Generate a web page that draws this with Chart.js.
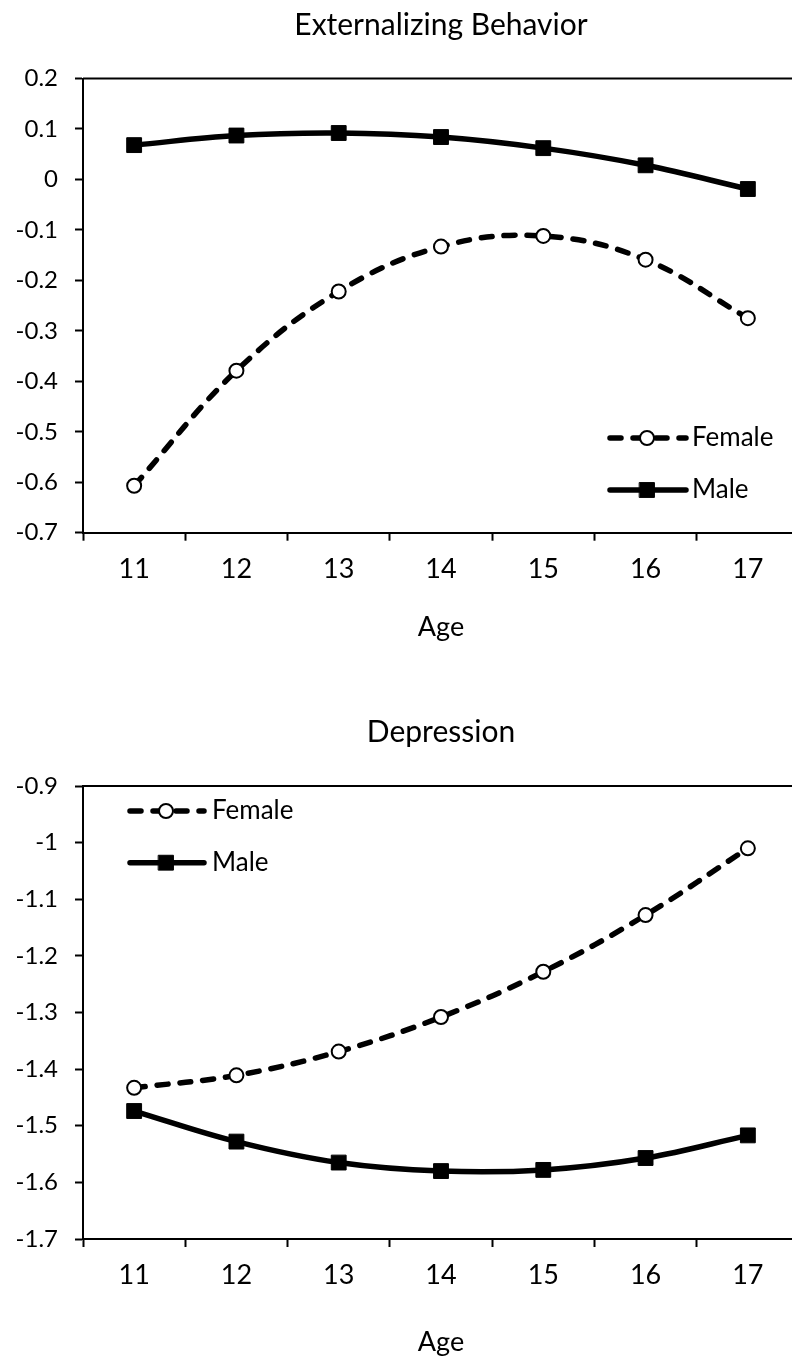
<!DOCTYPE html>
<html>
<head>
<meta charset="utf-8">
<script src="https://cdn.jsdelivr.net/npm/chart.js@4.4.1/dist/chart.umd.min.js"></script>
<style>
  html, body { margin: 0; padding: 0; background: #fff; overflow: hidden; }
  .panel { width: 792px; overflow: hidden; }
  canvas { display: block; }
</style>
</head>
<body>
<div class="panel" style="height:680px"><canvas id="chart-ext" width="820" height="680"></canvas></div>
<div class="panel" style="height:679px"><canvas id="chart-dep" width="820" height="679"></canvas></div>
<script>
// ages shared by both panels
const AGES = ['11', '12', '13', '14', '15', '16', '17'];

// Externalizing Behavior
const EXT_FEMALE = [-0.607, -0.379, -0.222, -0.133, -0.112, -0.159, -0.275];
const EXT_MALE = [0.068, 0.087, 0.092, 0.084, 0.062, 0.028, -0.019];
const EXT_Y_MIN = -0.7;
const EXT_Y_MAX = 0.2;

// Depression
const DEP_FEMALE = [-1.433, -1.411, -1.369, -1.308, -1.228, -1.128, -1.01];
const DEP_MALE = [-1.474, -1.528, -1.565, -1.58, -1.578, -1.557, -1.517];
const DEP_Y_MIN = -1.7;
const DEP_Y_MAX = -0.9;

const SERIES_LABELS = ['Female', 'Male'];

const FONT = 'Lato';
const DASH = [11, 12];

function femaleDataset(values) {
  return {
    label: SERIES_LABELS[0],
    data: values,
    borderColor: '#000',
    borderWidth: 5.5,
    borderDash: DASH,
    borderCapStyle: 'round',
    tension: 0.38,
    pointStyle: 'circle',
    pointRadius: 7,
    pointBorderWidth: 2,
    pointBackgroundColor: '#fff',
    pointBorderColor: '#000'
  };
}

function maleDataset(values) {
  return {
    label: SERIES_LABELS[1],
    data: values,
    borderColor: '#000',
    borderWidth: 5.5,
    tension: 0.38,
    pointStyle: 'rect',
    pointRadius: 10.5,
    pointBorderWidth: 1,
    pointBackgroundColor: '#000',
    pointBorderColor: '#000'
  };
}

// top border of the plot area (Excel draws the box, right side is cropped off)
const topBorder = {
  id: 'topBorder',
  afterDraw(chart) {
    const { ctx, chartArea } = chart;
    ctx.save();
    ctx.strokeStyle = '#000';
    ctx.lineWidth = 2;
    ctx.beginPath();
    ctx.moveTo(chartArea.left, chartArea.top);
    ctx.lineTo(chartArea.right, chartArea.top);
    ctx.stroke();
    ctx.restore();
  }
};

// legend inside the plot: line sample with marker in the middle
const lineLegend = {
  id: 'lineLegend',
  afterDatasetsDraw(chart, args, opts) {
    const { ctx } = chart;
    chart.data.datasets.forEach((ds, i) => {
      const y = opts.rows[i];
      const x0 = opts.x0;
      const x1 = opts.x1;
      const mx = (x0 + x1) / 2 - 1;
      ctx.save();
      ctx.strokeStyle = '#000';
      ctx.lineWidth = ds.borderWidth;
      ctx.lineCap = 'round';
      ctx.setLineDash(ds.borderDash || []);
      ctx.beginPath();
      ctx.moveTo(x0, y);
      ctx.lineTo(x1, y);
      ctx.stroke();
      ctx.setLineDash([]);
      ctx.fillStyle = ds.pointBackgroundColor;
      ctx.strokeStyle = ds.pointBorderColor;
      ctx.lineWidth = ds.pointBorderWidth;
      ctx.beginPath();
      if (ds.pointStyle === 'rect') {
        const s = ds.pointRadius * Math.SQRT1_2;
        ctx.rect(mx - s, y - s, 2 * s, 2 * s);
      } else {
        ctx.arc(mx, y, ds.pointRadius, 0, Math.PI * 2);
      }
      ctx.fill();
      ctx.stroke();
      ctx.fillStyle = '#000';
      ctx.font = opts.fontSize + 'px ' + FONT;
      ctx.textBaseline = 'middle';
      ctx.textAlign = 'left';
      ctx.fillText(ds.label, opts.textX, y);
      ctx.restore();
    });
  }
};

function fmt(v) {
  const n = Number(v.toFixed(1));
  return (n === 0 ? 0 : n).toString();
}

function makeChart(id, cfg) {
  return new Chart(document.getElementById(id), {
    type: 'line',
    data: {
      labels: AGES,
      datasets: [femaleDataset(cfg.female), maleDataset(cfg.male)]
    },
    plugins: [topBorder, lineLegend],
    options: {
      responsive: false,
      animation: false,
      events: [],
      layout: { padding: { left: 0, right: 21, top: 0, bottom: cfg.padBottom } },
      plugins: {
        legend: { display: false },
        tooltip: { enabled: false },
        title: {
          display: true,
          fullSize: false,
          text: cfg.title,
          color: '#000',
          font: { family: FONT, size: 30, weight: 'normal' },
          padding: cfg.titlePad
        },
        lineLegend: cfg.legend
      },
      scales: {
        x: {
          offset: true,
          afterFit: (s) => { s.height = cfg.xHeight; },
          grid: { offset: true, drawOnChartArea: false, drawTicks: true, tickLength: 8, tickWidth: 2, tickColor: '#000' },
          border: { display: true, color: '#000', width: 2 },
          ticks: { color: '#000', padding: 12, maxRotation: 0, font: { family: FONT, size: 27 } },
          title: { display: true, text: 'Age', color: '#000', padding: 0, font: { family: FONT, size: 27 } }
        },
        y: {
          min: cfg.yMin,
          max: cfg.yMax,
          afterFit: (s) => { s.width = 83; },
          grid: { drawOnChartArea: false, drawTicks: true, tickLength: 8, tickWidth: 2, tickColor: '#000' },
          border: { display: true, color: '#000', width: 2 },
          ticks: { stepSize: 0.1, color: '#000', padding: 17, font: { family: FONT, size: 24 }, callback: fmt }
        }
      }
    }
  });
}

makeChart('chart-ext', {
  title: 'Externalizing Behavior',
  female: EXT_FEMALE,
  male: EXT_MALE,
  yMin: EXT_Y_MIN,
  yMax: EXT_Y_MAX,
  titlePad: { top: 7, bottom: 35.5 },
  xHeight: 110.5,
  padBottom: 36.8,
  legend: { x0: 610, x1: 686, rows: [438, 490], textX: 692, fontSize: 26 }
});

makeChart('chart-dep', {
  title: 'Depression',
  female: DEP_FEMALE,
  male: DEP_MALE,
  yMin: DEP_Y_MIN,
  yMax: DEP_Y_MAX,
  titlePad: { top: 34, bottom: 36 },
  xHeight: 119,
  padBottom: 1,
  legend: { x0: 130, x1: 204, rows: [131, 182.7], textX: 212, fontSize: 26 }
});
</script>
</body>
</html>
